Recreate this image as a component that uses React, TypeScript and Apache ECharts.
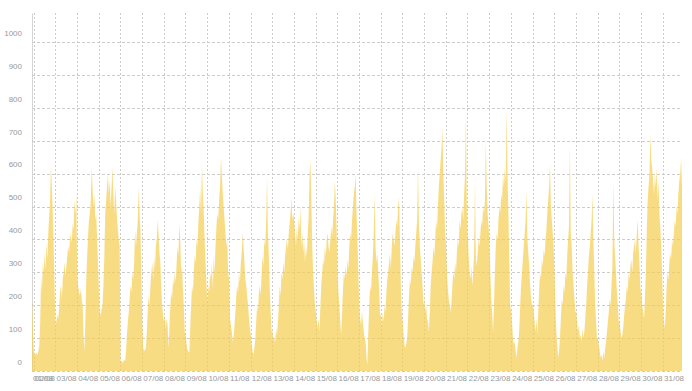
import React, { useEffect, useRef } from 'react';
import * as echarts from 'echarts';

const days = ['01/08', '02/08', '03/08', '04/08', '05/08', '06/08', '07/08', '08/08', '09/08', '10/08',
  '11/08', '12/08', '13/08', '14/08', '15/08', '16/08', '17/08', '18/08', '19/08', '20/08',
  '21/08', '22/08', '23/08', '24/08', '25/08', '26/08', '27/08', '28/08', '29/08', '30/08', '31/08'];
const firstHour = 22;
const yLabelMax = 1000;

const d01 = [220, 140];
const d02 = [58, 52, 50, 55, 48, 60, 75, 140, 290, 240, 330, 300, 360, 310, 390, 340, 420, 470, 520, 630, 560, 480, 380, 250];
const d03 = [140, 150, 170, 160, 190, 240, 260, 220, 280, 300, 330, 290, 320, 350, 380, 360, 400, 420, 390, 450, 430, 520, 480, 540];
const d04 = [300, 260, 240, 230, 250, 220, 200, 110, 60, 150, 280, 350, 410, 460, 480, 520, 620, 560, 500, 540, 460, 480, 400, 330];
const d05 = [250, 180, 170, 190, 200, 260, 350, 480, 520, 560, 600, 540, 580, 500, 560, 620, 540, 480, 560, 520, 470, 430, 400, 380];
const d06 = [28, 32, 25, 30, 35, 30, 60, 110, 150, 180, 220, 260, 240, 300, 280, 330, 430, 380, 420, 460, 560, 480, 430, 280];
const d07 = [150, 70, 60, 65, 70, 120, 180, 230, 200, 260, 300, 330, 280, 350, 310, 380, 400, 460, 420, 360, 330, 250, 200, 170];
const d08 = [150, 170, 130, 160, 140, 70, 130, 200, 240, 220, 280, 260, 300, 270, 330, 380, 350, 450, 400, 300, 320, 250, 190, 120];
const d09 = [110, 80, 65, 60, 55, 130, 200, 260, 240, 300, 350, 330, 400, 380, 450, 500, 560, 480, 630, 540, 480, 400, 330, 260];
const d10 = [210, 260, 240, 300, 280, 330, 250, 350, 300, 380, 440, 480, 460, 520, 560, 650, 600, 540, 500, 460, 420, 380, 400, 300];
const d11 = [280, 160, 140, 120, 90, 100, 140, 180, 230, 260, 240, 300, 270, 330, 360, 420, 380, 330, 280, 260, 230, 200, 160, 130];
const d12 = [110, 80, 60, 50, 70, 100, 150, 200, 180, 240, 260, 230, 300, 350, 320, 400, 380, 460, 590, 420, 350, 250, 180, 120];
const d13 = [120, 100, 95, 90, 130, 110, 150, 200, 260, 230, 300, 280, 330, 300, 350, 380, 400, 370, 420, 450, 480, 530, 460, 480];
const d14 = [460, 420, 380, 440, 400, 470, 430, 500, 380, 420, 360, 400, 330, 380, 350, 420, 470, 600, 640, 520, 380, 300, 250, 200];
const d15 = [180, 150, 130, 160, 120, 200, 260, 300, 340, 320, 380, 350, 400, 420, 380, 360, 400, 440, 410, 460, 500, 580, 520, 430];
const d16 = [300, 240, 200, 150, 110, 180, 250, 300, 280, 320, 290, 340, 310, 380, 420, 400, 460, 500, 540, 560, 600, 480, 400, 300];
const d17 = [200, 160, 140, 180, 150, 120, 100, 90, 40, 20, 120, 200, 260, 240, 300, 350, 420, 540, 380, 330, 360, 300, 250, 170];
const d18 = [170, 140, 180, 150, 200, 180, 240, 280, 300, 330, 360, 310, 380, 420, 400, 380, 420, 460, 440, 500, 530, 400, 260, 180];
const d19 = [150, 110, 80, 70, 85, 100, 160, 230, 280, 260, 320, 300, 350, 330, 380, 420, 460, 620, 450, 380, 340, 300, 260, 200];
const d20 = [220, 180, 200, 160, 150, 120, 180, 260, 300, 330, 380, 350, 400, 460, 430, 500, 560, 600, 640, 680, 740, 600, 520, 420];
const d21 = [380, 300, 250, 220, 200, 180, 210, 260, 300, 280, 330, 300, 360, 400, 380, 460, 430, 480, 500, 460, 540, 600, 790, 500];
const d22 = [420, 350, 300, 280, 320, 260, 300, 360, 580, 340, 320, 360, 400, 380, 420, 460, 440, 500, 480, 520, 700, 560, 480, 440];
const d23 = [400, 300, 220, 180, 120, 200, 300, 380, 420, 400, 460, 500, 480, 540, 520, 600, 560, 620, 580, 800, 600, 480, 320, 200];
const d24 = [180, 150, 100, 80, 90, 60, 40, 70, 90, 130, 200, 260, 300, 340, 380, 420, 460, 550, 400, 360, 320, 260, 220, 200];
const d25 = [200, 180, 150, 120, 160, 110, 180, 250, 300, 280, 340, 320, 370, 350, 400, 430, 480, 520, 560, 630, 500, 460, 420, 380];
const d26 = [300, 200, 120, 80, 40, 60, 100, 160, 220, 200, 260, 240, 300, 280, 350, 400, 440, 690, 420, 380, 300, 260, 220, 180];
const d27 = [180, 150, 120, 140, 100, 110, 90, 130, 100, 120, 160, 200, 260, 300, 350, 380, 420, 460, 540, 400, 300, 200, 150, 100];
const d28 = [100, 80, 60, 40, 50, 30, 60, 40, 70, 90, 120, 150, 180, 220, 200, 260, 320, 580, 400, 350, 300, 240, 200, 150];
const d29 = [150, 120, 100, 110, 130, 170, 200, 220, 260, 240, 300, 280, 320, 340, 300, 360, 380, 400, 360, 420, 460, 380, 320, 250];
const d30 = [240, 200, 180, 160, 220, 300, 420, 520, 560, 600, 720, 640, 620, 580, 540, 600, 560, 620, 520, 580, 480, 440, 380, 300];
const d31 = [200, 150, 130, 180, 260, 300, 280, 330, 360, 340, 400, 380, 420, 460, 440, 500, 480, 540, 580, 600, 650, 560];

const dailyValues = [d01, d02, d03, d04, d05, d06, d07, d08, d09, d10, d11, d12, d13, d14, d15, d16,
  d17, d18, d19, d20, d21, d22, d23, d24, d25, d26, d27, d28, d29, d30, d31];

const categories: string[] = [];
const values: number[] = [];
dailyValues.forEach((arr, i) => {
  arr.forEach((v, j) => {
    const h = i === 0 ? firstHour + j : j;
    categories.push(`${days[i]} ${String(h).padStart(2, '0')}:00`);
    values.push(v);
  });
});

const isMidnight = (v: string) => v.endsWith(' 00:00');
const FONT = 'Liberation Sans, Arial, Helvetica, sans-serif';

export default function App() {
  const ref = useRef<HTMLDivElement>(null);
  useEffect(() => {
    if (!ref.current) return;
    const chart = echarts.init(ref.current, undefined, { renderer: 'svg' });
    chart.setOption({
      animation: false,
      backgroundColor: '#ffffff',
      grid: { left: 32, right: 10, top: 13, bottom: 20, containLabel: false },
      xAxis: {
        type: 'category',
        data: categories,
        boundaryGap: false,
        axisLine: { show: false },
        axisTick: { show: false },
        axisLabel: {
          interval: 0,
          formatter: (v: string, i: number) => (i === 0 || isMidnight(v) ? v.slice(0, 5) : ''),
          hideOverlap: false,
          align: 'left',
          margin: 3,
          fontSize: 8,
          color: '#999',
          fontFamily: FONT,
          padding: [0, 0, 0, 1],
        },
        splitLine: {
          show: true,
          interval: (i: number, v: string) => isMidnight(v),
          lineStyle: { color: '#cccccc', width: 1, type: [2, 2] },
        },
      },
      yAxis: {
        type: 'value',
        min: 0,
        max: 1090,
        interval: 100,
        axisLine: { show: true, lineStyle: { color: '#cccccc', width: 1, type: [1, 1] } },
        axisTick: { show: false },
        axisLabel: {
          formatter: (v: number) => (v <= yLabelMax ? String(v) : ''),
          fontSize: 8,
          color: '#999',
          fontFamily: FONT,
          margin: 10,
          verticalAlign: 'bottom',
          lineHeight: 10,
          padding: [0, 0, 4, 0],
        },
        splitLine: {
          show: true,
          showMaxLine: false,
          lineStyle: { color: '#cccccc', width: 1, type: [3, 2] },
        },
      },
      series: [
        {
          type: 'line',
          data: values,
          showSymbol: false,
          symbol: 'none',
          silent: true,
          lineStyle: { width: 0 },
          areaStyle: { color: 'rgba(245,205,80,0.7)', opacity: 1 },
        },
      ],
    });
    return () => chart.dispose();
  }, []);
  return (
    <div
      ref={ref}
      style={{ position: 'fixed', left: 0, top: 0, width: 692, height: 391, background: '#fff' }}
    />
  );
}
